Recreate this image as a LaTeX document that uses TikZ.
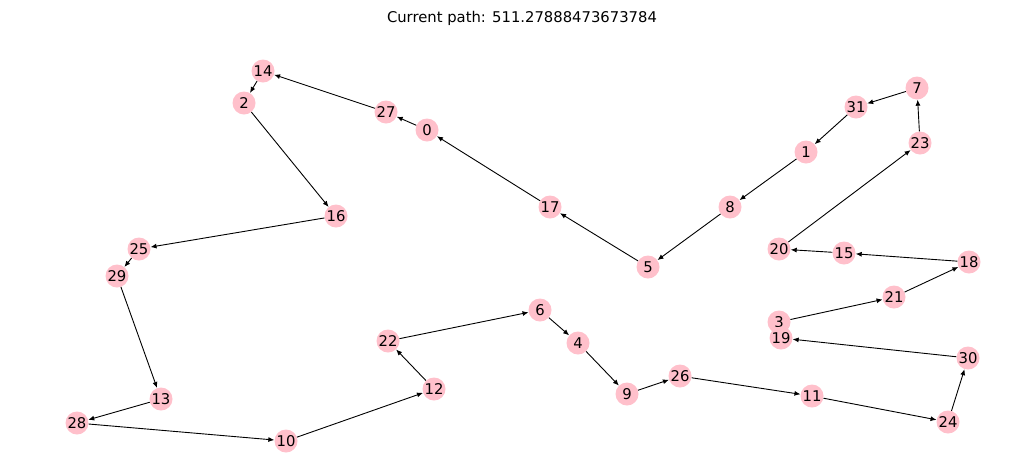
\documentclass[tikz,border=0pt]{standalone}
\usepackage{fontspec}
\setmainfont{DejaVu Sans}
\usetikzlibrary{arrows.meta}
\definecolor{nodepink}{RGB}{255,192,203}
\begin{document}
\begin{tikzpicture}[x=1pt,y=-1pt,>={Latex[length=6pt,width=5pt]},
  city/.style={circle,fill=nodepink,minimum size=23pt,inner sep=0pt,font=\fontsize{14.8}{14.8}\selectfont},
  hop/.style={->,black,line width=0.9pt}]
\useasboundingbox (0,0) rectangle (1024,467);
\node (title) at (522,18) {\fontsize{14.8}{14.8}\selectfont Current path: 511.27888473673784};
\foreach \n/\x/\y in {0/427/130, 1/806/152, 2/244/103, 3/779/322, 4/578/343, 5/648/267,
  6/540/310, 7/917/88, 8/730/207, 9/627/394, 10/286/441, 11/812/396, 12/434/389,
  13/161/399, 14/263/71, 15/844/253, 16/336/216, 17/550/207, 18/969/262, 19/781/338,
  20/779/249, 21/894/297, 22/388/341, 23/920/143, 24/948/422, 25/139/249, 26/680/376,
  27/386/112, 28/77/423, 29/117/276, 30/968/358, 31/856/107}
{
    \node[city] (c\n) at (\x,\y) {\n};
}
\foreach \a/\b in {27/14, 14/2, 2/16, 16/25, 25/29, 29/13, 13/28, 28/10, 10/12,
  12/22, 22/6, 6/4, 4/9, 9/26, 26/11, 11/24, 24/30, 30/19, 3/21, 21/18, 18/15,
  15/20, 20/23, 23/7, 7/31, 31/1, 1/8, 8/5, 5/17, 17/0, 0/27}
{
    \draw[hop](c\a)--(c\b);
}
\end{tikzpicture}
\end{document}
